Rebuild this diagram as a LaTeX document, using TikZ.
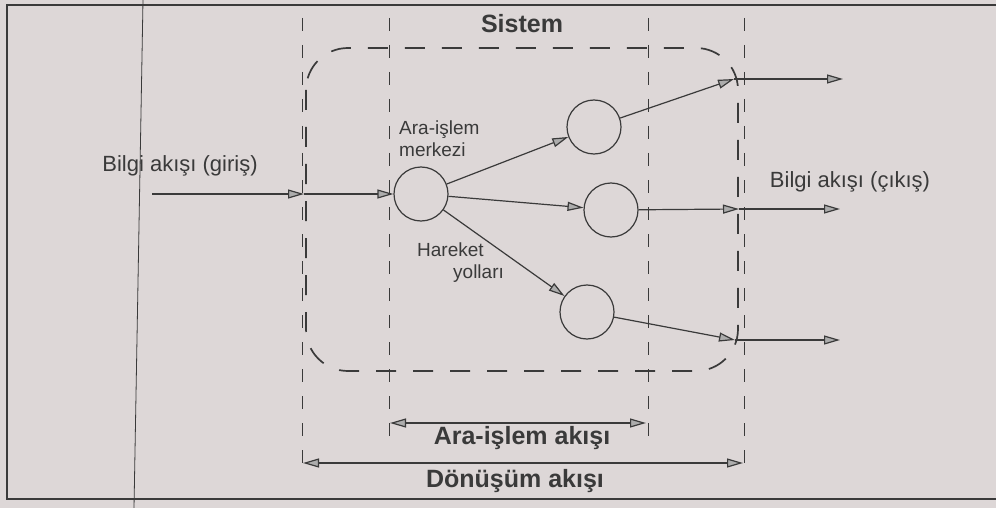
\documentclass[tikz,border=0pt]{standalone}
\usepackage{fontspec}
\setmainfont{Liberation Sans}
\usetikzlibrary{arrows.meta}
\definecolor{bg}{RGB}{221,215,215}
\definecolor{ink}{RGB}{58,58,58}
\begin{document}
\begin{tikzpicture}[x=1pt,y=-1pt,
  proc/.style={circle,draw=ink,line width=1.2pt,minimum size=54pt,inner sep=0pt},
  tipA/.tip={Triangle[length=16pt,width=9pt,fill=gray!65]},
  flow/.style={draw=ink,line width=1.2pt,-tipA},
  dflow/.style={draw=ink,line width=1.2pt,tipA-tipA},
  guide/.style={draw=ink,line width=0.9pt,dash pattern=on 13pt off 14pt},
  sysbox/.style={draw=ink,line width=1.7pt,dash pattern=on 20pt off 17pt,rounded corners=42pt},
  lbl/.style={text=ink,font=\fontsize{19}{22}\selectfont,inner sep=0pt},
  biglbl/.style={text=ink,font=\fontsize{22}{26}\selectfont,inner sep=0pt},
  bold/.style={text=ink,font=\fontsize{25}{29}\selectfont\bfseries,inner sep=0pt}]
\fill[bg] (0,0) rectangle (996,508);
\useasboundingbox (0,0) rectangle (996,508);

% frame and scan line
\draw[ink,line width=1.4pt] (996,5) -- (7,5) -- (7,499) -- (996,499);
\draw[ink,line width=0.8pt] (143,0) -- (134,508);

% guide lines
\coordinate (g1t) at (302,18);  \coordinate (g1b) at (302,470);
\coordinate (g2t) at (389,18);  \coordinate (g2b) at (389,436);
\coordinate (g3t) at (648,18);  \coordinate (g3b) at (648,436);
\coordinate (g4t) at (744,18);  \coordinate (g4b) at (744,470);
\draw[guide] (g1t) -- (g1b);
\draw[guide] (g2t) -- (g2b);
\draw[guide] (g3t) -- (g3b);
\draw[guide] (g4t) -- (g4b);

% system boundary
\draw[sysbox] (306,48) rectangle (738,371);
\node[bold] (sis) at (522,24) {Sistem};

% processing centres
\node[proc] (c0) at (421,194) {};
\node[proc] (c1) at (594,127) {};
\node[proc] (c2) at (611,210) {};
\node[proc] (c3) at (587,312) {};

% input
\coordinate (in0) at (152,194);
\coordinate (in1) at (304,194);
\draw[flow] (in0) -- (in1);
\draw[flow] (in1) -- (c0);
\node[biglbl] (lin) at (180,166) {Bilgi akışı (giriş)};

% internal paths
\draw[flow] (c0) -- (c1);
\draw[flow] (c0) -- (c2);
\draw[flow] (c0) -- (c3);

% outputs
\coordinate (e1) at (734,79);  \coordinate (f1) at (843,79);
\coordinate (e2) at (739,209); \coordinate (f2) at (840,209);
\coordinate (e3) at (735,340); \coordinate (f3) at (840,340);
\draw[flow] (c1) -- (e1);
\draw[flow] (e1) -- (f1);
\draw[flow] (c2) -- (e2);
\draw[flow] (e2) -- (f2);
\draw[flow] (c3) -- (e3);
\draw[flow] (e3) -- (f3);
\node[biglbl] (lout) at (850,182) {Bilgi akışı (çıkış)};

% labels inside
\node[lbl,align=left,anchor=north west] (lmer) at (399,121) {Ara-işlem\\merkezi};
\node[lbl,align=left,anchor=north west] (lhar) at (417,243) {Hareket\\\hspace*{36pt}yolları};

% dimension arrows
\coordinate (a1) at (390,423); \coordinate (a2) at (646,423);
\coordinate (d1) at (303,463); \coordinate (d2) at (743,463);
\draw[dflow] (a1) -- (a2);
\draw[dflow] (d1) -- (d2);
\node[bold] (lara) at (522,438) {Ara-işlem akışı};
\node[bold] (ldon) at (515,481) {Dönüşüm akışı};
\end{tikzpicture}
\end{document}
